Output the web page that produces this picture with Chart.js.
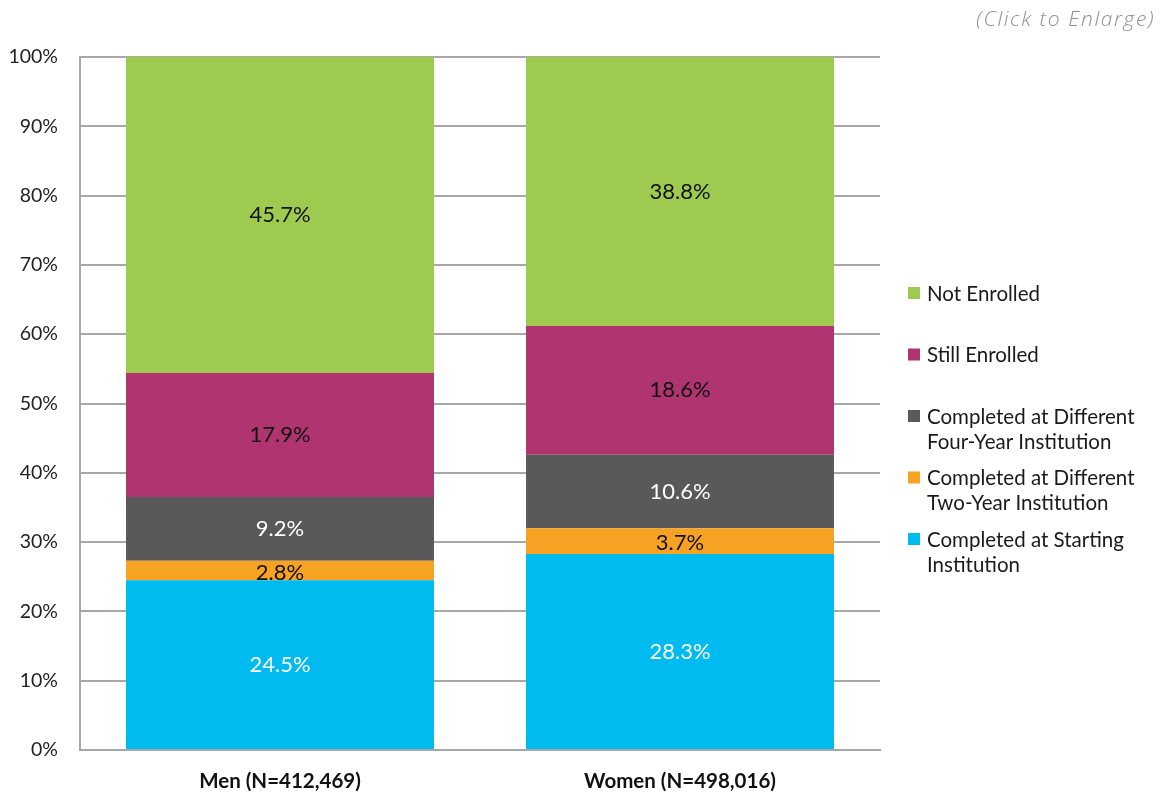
<!DOCTYPE html>
<html>
<head>
<meta charset="utf-8">
<script src="https://cdn.jsdelivr.net/npm/chart.js@4.4.1/dist/chart.umd.min.js"></script>
<style>
  html, body { margin: 0; padding: 0; background: #ffffff; }
  #wrap { position: relative; width: 1165px; height: 797px; }
  #note { position: absolute; right: 10px; top: 4px; font-family: "Open Sans", sans-serif; font-weight: 300; font-style: italic; font-size: 21px; letter-spacing: 1.6px; color: #8f8f8f; }
</style>
</head>
<body>
<div id="wrap">
  <canvas id="c" width="1165" height="797"></canvas>
  <div id="note">(Click to Enlarge)</div>
</div>
<script>
const categories = ["Men (N=412,469)", "Women (N=498,016)"];
const seriesNames = [
  ["Completed at Starting", "Institution"],
  ["Completed at Different", "Two-Year Institution"],
  ["Completed at Different", "Four-Year Institution"],
  ["Still Enrolled"],
  ["Not Enrolled"]
];
const completedStarting = [24.5, 28.3];
const completedTwoYear = [2.8, 3.7];
const completedFourYear = [9.2, 10.6];
const stillEnrolled = [17.9, 18.6];
const notEnrolled = [45.7, 38.8];
const seriesColors = ["#00bbf0", "#f6a324", "#595959", "#b0346f", "#9ecb4f"];
const labelColors = ["#ffffff", "#111111", "#ffffff", "#111111", "#111111"];
const yTicks = [0, 10, 20, 30, 40, 50, 60, 70, 80, 90, 100];

const seriesValues = [completedStarting, completedTwoYear, completedFourYear, stillEnrolled, notEnrolled];

const datasets = seriesValues.map((vals, i) => ({
  label: seriesNames[i].join(" "),
  data: vals,
  backgroundColor: seriesColors[i],
  borderWidth: 0,
  barPercentage: 0.77,
  categoryPercentage: 1.0
}));

const valueLabels = {
  id: 'valueLabels',
  afterDatasetsDraw(chart) {
    const ctx = chart.ctx;
    ctx.save();
    ctx.font = '22px Lato, sans-serif';
    ctx.textAlign = 'center';
    ctx.textBaseline = 'middle';
    chart.data.datasets.forEach((ds, i) => {
      const meta = chart.getDatasetMeta(i);
      meta.data.forEach((bar, j) => {
        const top = Math.max(bar.y, chart.chartArea.top);
        const y = (top + bar.base) / 2 + (i === 1 ? 2 : 0);
        ctx.fillStyle = labelColors[i];
        ctx.fillText(ds.data[j].toFixed(1) + '%', bar.x, y);
      });
    });
    ctx.restore();
  }
};

const customLegend = {
  id: 'customLegend',
  afterDraw(chart) {
    const ctx = chart.ctx;
    const x0 = chart.chartArea.right + 28;
    const firstY = 294;
    const step = 61.5;
    const lineH = 25;
    ctx.save();
    ctx.font = '20.5px Lato, sans-serif';
    ctx.textAlign = 'left';
    ctx.textBaseline = 'middle';
    for (let k = 0; k < seriesNames.length; k++) {
      const i = seriesNames.length - 1 - k;
      const y = firstY + k * step;
      ctx.fillStyle = seriesColors[i];
      ctx.fillRect(x0, y - 7, 12, 12);
      ctx.fillStyle = '#1a1a1a';
      seriesNames[i].forEach((line, li) => {
        ctx.fillText(line, x0 + 19, y + li * lineH);
      });
    }
    ctx.restore();
  }
};

new Chart(document.getElementById('c'), {
  type: 'bar',
  data: { labels: categories, datasets: datasets },
  options: {
    responsive: false,
    animation: false,
    layout: { padding: { top: 57, right: 285, left: 0, bottom: 0 } },
    plugins: {
      legend: { display: false },
      tooltip: { enabled: false }
    },
    scales: {
      x: {
        stacked: true,
        grid: { display: false, drawTicks: false },
        border: { display: true, color: '#a8a8a8', width: 2 },
        ticks: {
          padding: 19,
          color: '#111111',
          font: { family: 'Lato, sans-serif', size: 20.5, weight: 'bold' }
        },
        afterFit(scale) { scale.height = 47; }
      },
      y: {
        stacked: true,
        min: 0,
        max: 100,
        grid: { color: '#a8a8a8', lineWidth: 2, drawTicks: false },
        border: { display: true, color: '#a8a8a8', width: 2 },
        afterBuildTicks(scale) { scale.ticks = yTicks.map(v => ({ value: v })); },
        ticks: {
          padding: 22,
          color: '#222222',
          font: { family: 'Lato, sans-serif', size: 19.5 },
          callback: v => v + '%'
        },
        afterFit(scale) { scale.width = 80; }
      }
    }
  },
  plugins: [valueLabels, customLegend]
});
</script>
</body>
</html>
